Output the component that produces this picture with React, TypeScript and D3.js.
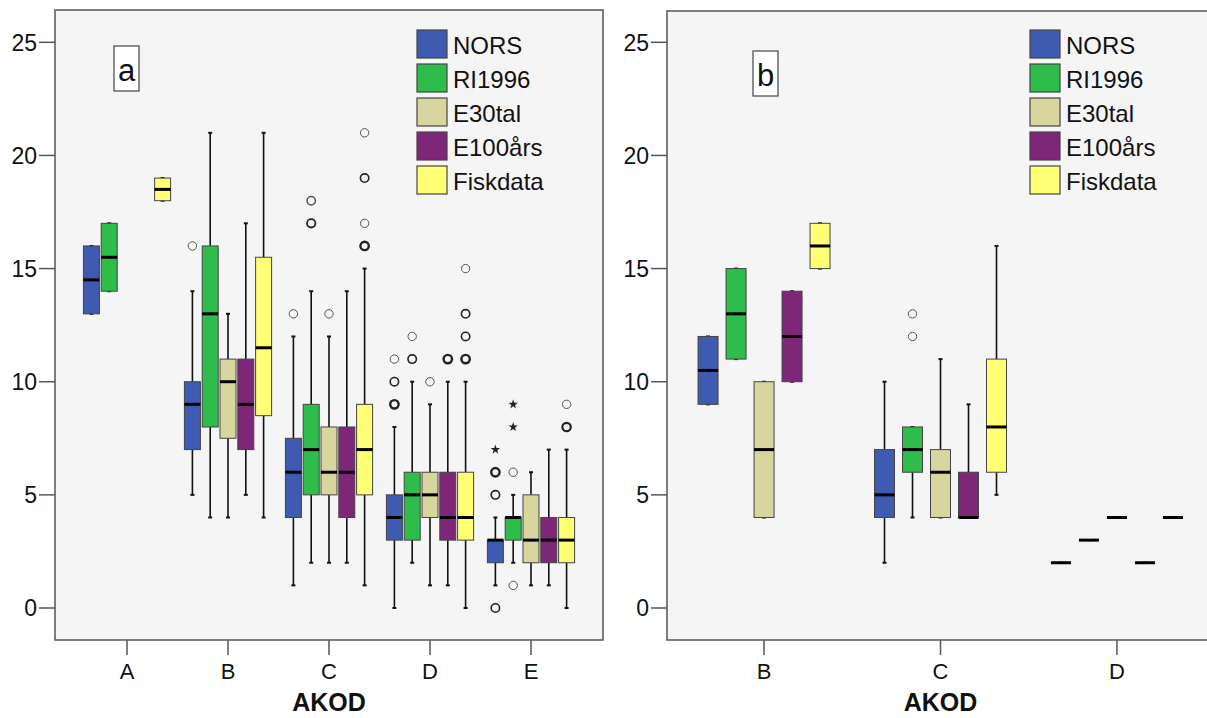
import React from 'react';
import * as d3 from 'd3';

type Stats = [number, number, number, number, number] | null; // [min, q1, median, q3, max]
type Outlier = [string, string, number, number]; // [akod, series, value, stroke weight]
type Extreme = [string, string, number];

const SERIES = ['NORS', 'RI1996', 'E30tal', 'E100års', 'Fiskdata'];
const SERIES_COLORS = ['#3f5bb1', '#2ebd4a', '#d9d59e', '#7e2779', '#ffff75'];
const Y_TICKS = [0, 5, 10, 15, 20, 25];

// Panel a
const AKOD_A = ['A', 'B', 'C', 'D', 'E'];
const A_NORS: Stats[] = [[13, 13, 14.5, 16, 16], [5, 7, 9, 10, 14], [1, 4, 6, 7.5, 12], [0, 3, 4, 5, 8], [1, 2, 3, 3, 4]];
const A_RI1996: Stats[] = [[14, 14, 15.5, 17, 17], [4, 8, 13, 16, 21], [2, 5, 7, 9, 14], [2, 3, 5, 6, 10], [2, 3, 4, 4, 5]];
const A_E30TAL: Stats[] = [null, [4, 7.5, 10, 11, 13], [2, 5, 6, 8, 12], [1, 4, 5, 6, 9], [1, 2, 3, 5, 6]];
const A_E100ARS: Stats[] = [null, [5, 7, 9, 11, 17], [2, 4, 6, 8, 14], [1, 3, 4, 6, 10], [1, 2, 3, 4, 7]];
const A_FISKDATA: Stats[] = [[18, 18, 18.5, 19, 19], [4, 8.5, 11.5, 15.5, 21], [1, 5, 7, 9, 15], [0, 3, 4, 6, 10], [0, 2, 3, 4, 7]];
const A_OUTLIERS: Outlier[] = [
  ['B', 'NORS', 16, 1],
  ['C', 'NORS', 13, 1], ['C', 'RI1996', 18, 1.5], ['C', 'RI1996', 17, 1.8], ['C', 'E30tal', 13, 1],
  ['C', 'Fiskdata', 21, 1], ['C', 'Fiskdata', 19, 1.6], ['C', 'Fiskdata', 17, 1], ['C', 'Fiskdata', 16, 2.4],
  ['D', 'NORS', 11, 1], ['D', 'NORS', 10, 1.6], ['D', 'NORS', 9, 2.4], ['D', 'RI1996', 12, 1], ['D', 'RI1996', 11, 1.6],
  ['D', 'E30tal', 10, 1], ['D', 'E100års', 11, 2.4], ['D', 'Fiskdata', 15, 1], ['D', 'Fiskdata', 13, 1.6],
  ['D', 'Fiskdata', 12, 1.6], ['D', 'Fiskdata', 11, 2.4],
  ['E', 'NORS', 6, 2.4], ['E', 'NORS', 5, 1.6], ['E', 'NORS', 0, 1.6], ['E', 'RI1996', 6, 1], ['E', 'RI1996', 1, 1],
  ['E', 'Fiskdata', 9, 1], ['E', 'Fiskdata', 8, 2.2],
];
const A_EXTREMES: Extreme[] = [['E', 'NORS', 7], ['E', 'RI1996', 9], ['E', 'RI1996', 8]];

// Panel b
const AKOD_B = ['B', 'C', 'D'];
const B_NORS: Stats[] = [[9, 9, 10.5, 12, 12], [2, 4, 5, 7, 10], [2, 2, 2, 2, 2]];
const B_RI1996: Stats[] = [[11, 11, 13, 15, 15], [4, 6, 7, 8, 8], [3, 3, 3, 3, 3]];
const B_E30TAL: Stats[] = [[4, 4, 7, 10, 10], [4, 4, 6, 7, 11], [4, 4, 4, 4, 4]];
const B_E100ARS: Stats[] = [[10, 10, 12, 14, 14], [4, 4, 4, 6, 9], [2, 2, 2, 2, 2]];
const B_FISKDATA: Stats[] = [[15, 15, 16, 17, 17], [5, 6, 8, 11, 16], [4, 4, 4, 4, 4]];
const B_OUTLIERS: Outlier[] = [['C', 'RI1996', 13, 1], ['C', 'RI1996', 12, 1]];
const B_EXTREMES: Extreme[] = [];

const FONT = '"Liberation Sans", Arial, sans-serif';

interface PanelProps {
  x0: number;
  x1: number;
  y0: number;
  y1: number;
  cats: string[];
  boxes: Stats[][];
  outliers: Outlier[];
  extremes: Extreme[];
  padding: number;
  seriesStep: number;
  boxWidth: number;
  label: string;
  labelX: number;
  labelY: number;
  legendX: number;
}

const Panel: React.FC<PanelProps> = ({
  x0, x1, y0, y1, cats, boxes, outliers, extremes, padding, seriesStep, boxWidth, label, labelX, labelY, legendX,
}) => {
  const x = d3.scalePoint<string>().domain(cats).range([x0, x1]).padding(padding);
  const y = d3.scaleLinear().domain([0, 25]).range([608, 42.3]);
  const inner = 1 - boxWidth / seriesStep;
  const sub = d3.scaleBand<string>()
    .domain(SERIES)
    .range([-2.5 * seriesStep, 2.5 * seriesStep])
    .paddingInner(inner)
    .paddingOuter(inner / 2);
  const bw = sub.bandwidth();
  const cx = (cat: string, s: string) => (x(cat) || 0) + (sub(s) || 0) + bw / 2;
  const star = d3.symbol().type(d3.symbolStar).size(28)() || '';

  return (
    <g fontFamily={FONT}>
      <rect x={x0} y={y0} width={x1 - x0} height={y1 - y0} fill="#f5f5f5" stroke="#555" strokeWidth={1.5} />

      {/* boxes */}
      {SERIES.map((s, si) =>
        boxes[si].map((b, ci) => {
          if (!b) return null;
          const c = cx(cats[ci], s);
          const [lo, q1, med, q3, hi] = b;
          return (
            <g key={`${s}-${ci}`}>
              <line x1={c} x2={c} y1={y(hi)} y2={y(q3)} stroke="#111" strokeWidth={1.6} />
              <line x1={c} x2={c} y1={y(q1)} y2={y(lo)} stroke="#111" strokeWidth={1.6} />
              <line x1={c - 2} x2={c + 2} y1={y(hi)} y2={y(hi)} stroke="#111" strokeWidth={2} />
              <line x1={c - 2} x2={c + 2} y1={y(lo)} y2={y(lo)} stroke="#111" strokeWidth={2} />
              <rect
                x={c - bw / 2}
                y={y(q3)}
                width={bw}
                height={y(q1) - y(q3)}
                fill={SERIES_COLORS[si]}
                stroke="#444"
                strokeWidth={1}
              />
              <line x1={c - bw / 2} x2={c + bw / 2} y1={y(med)} y2={y(med)} stroke="#000" strokeWidth={3} />
            </g>
          );
        })
      )}

      {/* outliers */}
      {outliers.map(([cat, s, v, w], i) => (
        <circle key={`o-${i}`} cx={cx(cat, s)} cy={y(v)} r={4.2} fill="none" stroke={w > 1.5 ? '#222' : '#555'} strokeWidth={w} />
      ))}
      {extremes.map(([cat, s, v], i) => (
        <path key={`e-${i}`} d={star} transform={`translate(${cx(cat, s)},${y(v)})`} fill="#222" />
      ))}

      {/* y axis */}
      {Y_TICKS.map(t => (
        <g key={`yt-${t}`} transform={`translate(${x0},${y(t)})`}>
          <line x1={-16} x2={0} stroke="#555" strokeWidth={1.5} />
          <text x={-18} dy="0.36em" textAnchor="end" fontSize={23} fill="#111">{t}</text>
        </g>
      ))}

      {/* x axis */}
      {cats.map(c => (
        <g key={`xt-${c}`} transform={`translate(${x(c)},${y1})`}>
          <line y1={0} y2={15} stroke="#555" strokeWidth={1.5} />
          <text y={39} textAnchor="middle" fontSize={22} fill="#111">{c}</text>
        </g>
      ))}
      <text x={(x0 + x1) / 2} y={711} textAnchor="middle" fontSize={25} fontWeight="bold" fill="#111">AKOD</text>

      {/* panel label */}
      <rect x={labelX} y={labelY} width={25} height={45} fill="#fff" stroke="#444" strokeWidth={1.2} />
      <text x={labelX + 12.5} y={labelY + 35} textAnchor="middle" fontSize={31} fill="#111">{label}</text>

      {/* legend */}
      {SERIES.map((s, i) => (
        <g key={`lg-${s}`} transform={`translate(${legendX},${30 + i * 34})`}>
          <rect width={30} height={28} fill={SERIES_COLORS[i]} stroke="#444" strokeWidth={1.2} />
          <text x={36} y={24} fontSize={24} fill="#111">{s}</text>
        </g>
      ))}
    </g>
  );
};

export default function App() {
  return (
    <svg
      width={1207}
      height={718}
      style={{ position: 'absolute', left: 0, top: 0, display: 'block', background: '#fff' }}
    >
      <Panel
        x0={55}
        x1={603}
        y0={10}
        y1={640}
        cats={AKOD_A}
        boxes={[A_NORS, A_RI1996, A_E30TAL, A_E100ARS, A_FISKDATA]}
        outliers={A_OUTLIERS}
        extremes={A_EXTREMES}
        padding={0.713}
        seriesStep={17.8}
        boxWidth={16}
        label="a"
        labelX={114}
        labelY={46}
        legendX={417}
      />
      <Panel
        x0={667}
        x1={1214}
        y0={11}
        y1={640}
        cats={AKOD_B}
        boxes={[B_NORS, B_RI1996, B_E30TAL, B_E100ARS, B_FISKDATA]}
        outliers={B_OUTLIERS}
        extremes={B_EXTREMES}
        padding={0.55}
        seriesStep={28}
        boxWidth={20}
        label="b"
        labelX={753}
        labelY={51}
        legendX={1030}
      />
    </svg>
  );
}
